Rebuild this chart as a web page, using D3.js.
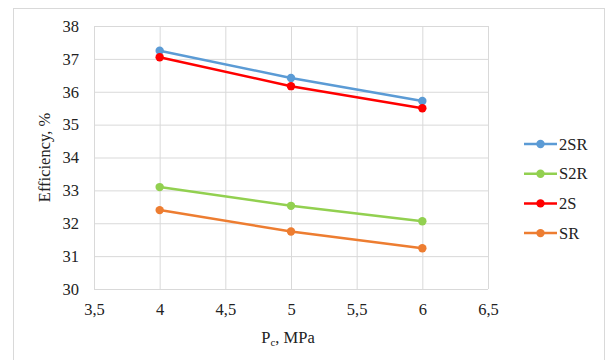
<!DOCTYPE html>
<html>
<head>
<meta charset="utf-8">
<script src="https://cdn.jsdelivr.net/npm/d3@7"></script>
<style>
  body { margin: 0; background: #fff; }
  svg, svg text { font-family: "Times New Roman", "Liberation Serif", Tinos, serif; }
</style>
</head>
<body>
<div id="chart"></div>
<script>
const pressures = [4, 5, 6];
const seriesNames = ["2SR", "S2R", "2S", "SR"];
const seriesColors = ["#5b9bd5", "#92d050", "#ff0000", "#ed7d31"];
const eff2SR = [37.25, 36.42, 35.72];
const effS2R = [33.1, 32.53, 32.06];
const eff2S = [37.05, 36.17, 35.5];
const effSR = [32.4, 31.75, 31.24];
const xTicks = [3.5, 4, 4.5, 5, 5.5, 6, 6.5];
const yTicks = [30, 31, 32, 33, 34, 35, 36, 37, 38];

const seriesValues = [eff2SR, effS2R, eff2S, effSR];

const width = 606, height = 360;
const plotLeft = 94, plotRight = 488, plotTop = 26, plotBottom = 289;
const serif = '"Times New Roman", "Liberation Serif", Tinos, serif';
const fs = 16.5;

const svg = d3.select("#chart").append("svg")
  .attr("width", width)
  .attr("height", height)
  .attr("font-family", serif);

svg.append("rect")
  .attr("x", 13.5).attr("y", 8.5)
  .attr("width", 591).attr("height", 360)
  .attr("fill", "none")
  .attr("stroke", "#d9d9d9");

const x = d3.scaleLinear().domain([3.5, 6.5]).range([plotLeft, plotRight]);
const y = d3.scaleLinear().domain([30, 38]).range([plotBottom, plotTop]);

const comma = d => String(d).replace(".", ",");

// grid
svg.append("g")
  .attr("transform", `translate(0,${plotBottom})`)
  .call(d3.axisBottom(x).tickValues(xTicks).tickSize(-(plotBottom - plotTop)).tickFormat(""))
  .call(g => g.select(".domain").remove())
  .call(g => g.selectAll("line").attr("stroke", "#d9d9d9"));
svg.append("g")
  .attr("transform", `translate(${plotLeft},0)`)
  .call(d3.axisLeft(y).tickValues(yTicks).tickSize(-(plotRight - plotLeft)).tickFormat(""))
  .call(g => g.select(".domain").remove())
  .call(g => g.selectAll("line").attr("stroke", "#d9d9d9"));

// axis labels
svg.append("g")
  .attr("transform", `translate(0,${plotBottom})`)
  .call(d3.axisBottom(x).tickValues(xTicks).tickSize(0).tickPadding(14).tickFormat(comma))
  .call(g => g.select(".domain").remove())
  .call(g => g.attr("font-family", serif))
  .call(g => g.selectAll("text").style("font-size", fs + "px").style("font-family", serif).attr("fill", "#222"));
svg.append("g")
  .attr("transform", `translate(${plotLeft},0)`)
  .call(d3.axisLeft(y).tickValues(yTicks).tickSize(0).tickPadding(15).tickFormat(comma))
  .call(g => g.select(".domain").remove())
  .call(g => g.attr("font-family", serif))
  .call(g => g.selectAll("text").style("font-size", fs + "px").style("font-family", serif).attr("fill", "#222"));

// series
const line = d3.line().x((d, i) => x(pressures[i])).y(d => y(d));
seriesValues.forEach((vals, k) => {
  svg.append("path")
    .datum(vals)
    .attr("d", line)
    .attr("fill", "none")
    .attr("stroke", seriesColors[k])
    .attr("stroke-width", 2.5);
  svg.selectAll(null)
    .data(vals)
    .enter()
    .append("circle")
    .attr("cx", (d, i) => x(pressures[i]))
    .attr("cy", d => y(d))
    .attr("r", 4.2)
    .attr("fill", seriesColors[k]);
});

// titles
svg.append("text")
  .attr("transform", `translate(50,${(plotTop + plotBottom) / 2}) rotate(-90)`)
  .attr("text-anchor", "middle")
  .attr("fill", "#222")
  .style("font-family", serif).style("font-size", fs + "px")
  .text("Efficiency, %");

const xt = svg.append("text")
  .attr("x", (plotLeft + plotRight) / 2 - 3)
  .attr("y", 343)
  .attr("text-anchor", "middle")
  .attr("fill", "#222")
  .style("font-family", serif).style("font-size", fs + "px");
xt.append("tspan").text("P");
xt.append("tspan").style("font-size", "11px").attr("dy", 3).text("c");
xt.append("tspan").attr("dy", -3).text(", MPa");

// legend
const legend = svg.append("g").attr("transform", "translate(524,144)");
seriesNames.forEach((name, k) => {
  const g = legend.append("g").attr("transform", `translate(0,${k * 29.7})`);
  g.append("line").attr("x1", 0).attr("x2", 33)
    .attr("stroke", seriesColors[k]).attr("stroke-width", 2.5);
  g.append("circle").attr("cx", 16.5).attr("r", 4.2).attr("fill", seriesColors[k]);
  g.append("text").attr("x", 35).attr("dy", "0.35em").attr("fill", "#222")
    .style("font-family", serif).style("font-size", fs + "px").text(name);
});
</script>
</body>
</html>
